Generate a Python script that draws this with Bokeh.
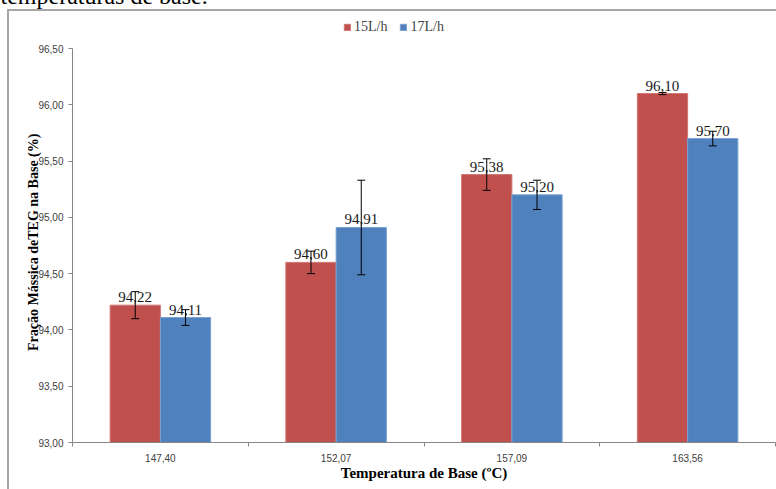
from bokeh.plotting import figure
from bokeh.models import (ColumnDataSource, FixedTicker, Legend, LegendItem, Whisker,
                          TeeHead)
from bokeh.core.properties import value
from bokeh.embed import file_html
from bokeh.resources import INLINE

# ---- data ----
categories = ["147,40", "152,07", "157,09", "163,56"]
series_names = ["15L/h", "17L/h"]
values_15 = [94.22, 94.60, 95.38, 96.10]
values_17 = [94.11, 94.91, 95.20, 95.70]
err_15 = [0.12, 0.10, 0.14, 0.01]
err_17 = [0.07, 0.42, 0.13, 0.065]
y_ticks = [93.0, 93.5, 94.0, 94.5, 95.0, 95.5, 96.0, 96.5]
caption_text = "temperaturas de base."
y_label = "Fração Mássica deTEG na Base (%)"
x_label = "Temperatura de Base (ºC)"

RED = "#C0504D"
BLUE = "#4F81BD"
GRID = "#A6A6A6"

def fmt(v):
    return f"{v:.2f}".replace(".", ",")

SHIFT = 24  # canvas pixels hidden above the window
ppu = 394 / 3.5  # pixels per y unit
y_top = 93.0 + 432 / ppu

p = figure(width=776, height=489 + SHIFT, output_backend="svg", toolbar_location=None,
           x_range=(-0.5, 3.5), y_range=(93.0, y_top),
           min_border_left=72, min_border_right=1, min_border_top=10 + SHIFT,
           min_border_bottom=47)
p.outline_line_color = None
p.xgrid.visible = False
p.ygrid.visible = False
p.background_fill_color = None
p.border_fill_color = None
p.styles = {
    "margin-top": f"-{SHIFT}px",
    "background": (f"linear-gradient({GRID},{GRID}) 7px {9 + SHIFT}px / 2px 100% no-repeat, "
                   f"linear-gradient({GRID},{GRID}) 7px {9 + SHIFT}px / 100% 2px no-repeat, white"),
}

p.title.text = caption_text
p.title.align = "left"
p.title.offset = -72
p.title.standoff = 4
p.title.text_font = "Liberation Serif"
p.title.text_font_size = "24px"
p.title.text_font_style = "normal"
p.title.text_color = "black"

idx = list(range(len(categories)))
bw = 0.286
off = bw / 2

src15 = ColumnDataSource(dict(x=[i - off for i in idx], top=values_15,
                              lo=[v - e for v, e in zip(values_15, err_15)],
                              hi=[v + e for v, e in zip(values_15, err_15)],
                              lab=[fmt(v) for v in values_15]))
src17 = ColumnDataSource(dict(x=[i + off for i in idx], top=values_17,
                              lo=[v - e for v, e in zip(values_17, err_17)],
                              hi=[v + e for v, e in zip(values_17, err_17)],
                              lab=[fmt(v) for v in values_17]))

r15 = p.vbar(x="x", top="top", bottom=93.0, width=bw, source=src15,
             fill_color=RED, line_color="#D07572", line_width=1)
r17 = p.vbar(x="x", top="top", bottom=93.0, width=bw, source=src17,
             fill_color=BLUE, line_color="#7AA1D2", line_width=1)

for s in (src15, src17):
    p.text(x="x", y="top", text="lab", source=s, text_align="center", text_baseline="bottom",
           y_offset=-3, text_font=value("Liberation Serif"), text_font_size="15px",
           text_color="#1a1a1a")
    w = Whisker(base="x", upper="hi", lower="lo", source=s, line_color="black", line_width=1,
                level="overlay",
                upper_head=TeeHead(size=8, line_color="black", line_width=1),
                lower_head=TeeHead(size=8, line_color="black", line_width=1))
    p.add_layout(w)

# axes
p.xaxis.ticker = FixedTicker(ticks=idx, minor_ticks=[-0.5, 0.5, 1.5, 2.5, 3.5])
p.xaxis.major_label_overrides = {i: c for i, c in zip(idx, categories)}
p.xaxis.major_tick_line_color = None
p.xaxis.minor_tick_line_color = "#868686"
p.xaxis.minor_tick_out = 4
p.xaxis.minor_tick_in = 0
p.xaxis.axis_line_color = "#868686"
p.xaxis.major_label_text_font = "Liberation Sans"
p.xaxis.major_label_text_font_size = "10px"
p.xaxis.major_label_text_color = "#404040"
p.xaxis.major_label_standoff = 5
p.xaxis.axis_label = x_label
p.xaxis.axis_label_text_font = "Liberation Serif"
p.xaxis.axis_label_text_font_style = "bold"
p.xaxis.axis_label_text_font_size = "15px"
p.xaxis.axis_label_text_color = "black"
p.xaxis.axis_label_standoff = 0

p.yaxis.ticker = FixedTicker(ticks=y_ticks, minor_ticks=[])
p.yaxis.bounds = (93.0, 96.5)
p.yaxis.major_label_overrides = {t: fmt(t) for t in y_ticks}
p.yaxis.major_tick_line_color = "#868686"
p.yaxis.major_tick_out = 4
p.yaxis.major_tick_in = 0
p.yaxis.minor_tick_line_color = None
p.yaxis.axis_line_color = "#868686"
p.yaxis.major_label_text_font = "Liberation Sans"
p.yaxis.major_label_text_font_size = "10px"
p.yaxis.major_label_text_color = "#404040"
p.yaxis.major_label_standoff = 5
# trailing no-break spaces centre the label on the 93–96.5 span rather than the taller frame
p.yaxis.axis_label = y_label + "\u00a0" * 9
p.yaxis.axis_label_text_font = "Liberation Serif"
p.yaxis.axis_label_text_font_style = "bold"
p.yaxis.axis_label_text_font_size = "14px"
p.yaxis.axis_label_text_color = "black"
p.yaxis.axis_label_standoff = -6

legend = Legend(items=[LegendItem(label=series_names[0], renderers=[r15]),
                       LegendItem(label=series_names[1], renderers=[r17])],
                orientation="horizontal", location=(271, 407),
                label_text_font="Liberation Serif", label_text_font_size="14px",
                glyph_width=8, glyph_height=8, label_standoff=3, spacing=12,
                padding=2, margin=0, border_line_color=None, background_fill_alpha=0)
p.add_layout(legend)

open("out.html", "w").write(file_html(p, INLINE))
